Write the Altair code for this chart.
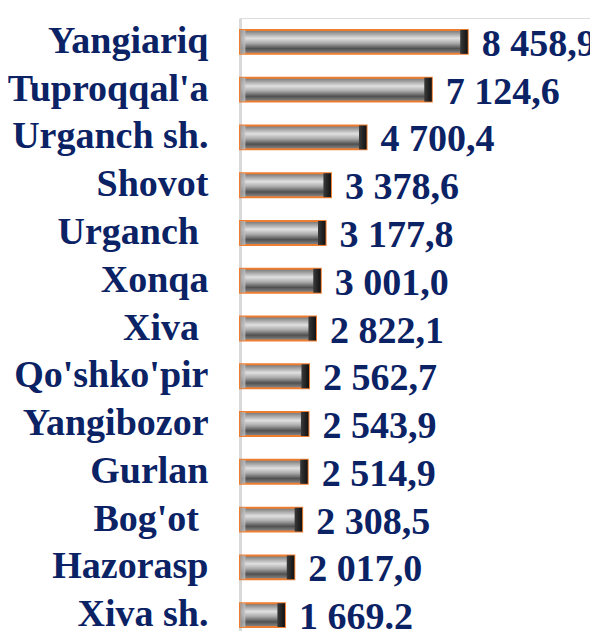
import altair as alt
import pandas as pd

categories = ["Yangiariq", "Tuproqqal'a", "Urganch sh.", "Shovot", "Urganch\u00a0\u200b",
              "Xonqa", "Xiva\u00a0\u200b", "Qo'shko'pir", "Yangibozor", "Gurlan",
              "Bog'ot\u00a0\u200b", "Hazorasp", "Xiva sh."]
values = [8458.9, 7124.6, 4700.4, 3378.6, 3177.8, 3001.0, 2822.1, 2562.7,
          2543.9, 2514.9, 2308.5, 2017.0, 1669.2]
value_labels = ["8 458,9", "7 124,6", "4 700,4", "3 378,6", "3 177,8", "3 001,0",
                "2 822,1", "2 562,7", "2 543,9", "2 514,9", "2 308,5", "2 017,0",
                "1 669.2"]

df = pd.DataFrame({"cat": categories, "val": values, "lab": value_labels})

NAVY = "#0b2265"
FONT = "Liberation Serif"
FS = 38

y_enc = alt.Y("cat:N", sort=categories,
              scale=alt.Scale(paddingInner=0.5, paddingOuter=0.25),
              axis=alt.Axis(title=None, ticks=False, labelPadding=32,
                            labelFont=FONT, labelFontSize=FS, labelFontWeight="bold",
                            labelColor=NAVY, domainColor="#d9d9d9", domainWidth=3,
                            labelLimit=0, labelOverlap=False))
x_scale = alt.Scale(domain=[0, 13000], nice=False)

grad = alt.Gradient(
    gradient="linear", x1=0, y1=0, x2=0, y2=1,
    stops=[alt.GradientStop(color="#707070", offset=0),
           alt.GradientStop(color="#a0a0a0", offset=0.15),
           alt.GradientStop(color="#e0e0e0", offset=0.35),
           alt.GradientStop(color="#acacac", offset=0.55),
           alt.GradientStop(color="#505050", offset=0.78),
           alt.GradientStop(color="#8e8e8e", offset=1)])

bars = alt.Chart(df).mark_bar(color=grad, stroke="#ed7d31", strokeWidth=2,
                              cornerRadius=0).encode(
    x=alt.X("val:Q", scale=x_scale, axis=None),
    y=y_enc,
)

cap_grad = alt.Gradient(
    gradient="linear", x1=0, y1=0, x2=1, y2=0,
    stops=[alt.GradientStop(color="#3a3a3a", offset=0),
           alt.GradientStop(color="#111111", offset=1)])

caps = alt.Chart(df).transform_calculate(
    start="datum.val - 280"
).mark_bar(color=cap_grad).encode(
    x=alt.X("start:Q", scale=x_scale, axis=None),
    x2="val:Q",
    y=alt.Y("cat:N", sort=categories),
)

left_grad = alt.Gradient(
    gradient="linear", x1=0, y1=0, x2=1, y2=0,
    stops=[alt.GradientStop(color="#9a9a9a", offset=0),
           alt.GradientStop(color="#c4c4c4", offset=1)])

left_caps = alt.Chart(df).transform_calculate(
    start="0", stop="200"
).mark_bar(color=left_grad, opacity=0.8).encode(
    x=alt.X("start:Q", scale=x_scale, axis=None),
    x2="stop:Q",
    y=alt.Y("cat:N", sort=categories),
)

texts = alt.Chart(df).mark_text(align="left", baseline="middle", dx=14, dy=3,
                                font=FONT, fontSize=FS, fontWeight="bold",
                                color=NAVY).encode(
    x=alt.X("val:Q", scale=x_scale, axis=None),
    y=alt.Y("cat:N", sort=categories),
    text="lab:N",
)

chart = alt.layer(bars, left_caps, caps, texts).properties(
    width=350, height=621,
    autosize=alt.AutoSizeParams(type="none"),
    padding={"left": 232, "top": 10, "right": 0, "bottom": 0},
).configure_view(stroke=None).configure(background="white")

chart.save("out.html", embed_options={"renderer": "svg", "actions": False})
